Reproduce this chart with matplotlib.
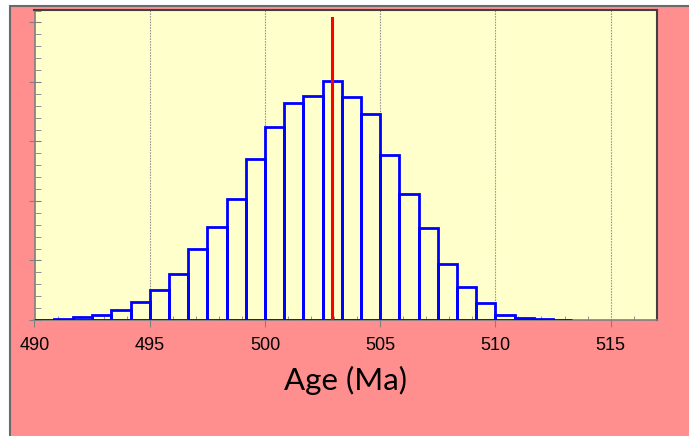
import matplotlib.pyplot as plt
from matplotlib.patches import Rectangle
from matplotlib.ticker import MultipleLocator
import numpy as np

# bin edges (bins of 5/6 Ma starting at 490) and bar heights
bin_start = 490.0
bin_width = 5.0 / 6.0
heights = [0.005, 0.022, 0.055, 0.09, 0.17, 0.31, 0.51, 0.78, 1.19, 1.57,
           2.04, 2.71, 3.24, 3.65, 3.76, 4.02, 3.74, 3.47, 2.77, 2.12,
           1.55, 0.94, 0.55, 0.28, 0.09, 0.04, 0.012, 0.008]
mean_age = 502.91
mean_top = 5.07
x_ticks = [490, 495, 500, 505, 510, 515]

edges = bin_start + bin_width * np.arange(len(heights))

fig = plt.figure(figsize=(6.89, 4.36), dpi=100)
fig.patch.set_facecolor('white')

# pink background panel with grey border
bg = Rectangle((10 / 689, -0.1), 1.1, 1 - 6 / 436 + 0.1, transform=fig.transFigure,
               facecolor='#FF8F8F', edgecolor='#6a6a6a', linewidth=1.5, zorder=-10)
fig.patches.append(bg)

ax = fig.add_axes([34.5 / 689, 1 - 320 / 436, (656.7 - 34.5) / 689, 310 / 436])
ax.set_facecolor('#FFFFCC')

ax.bar(edges, heights, width=bin_width, align='edge', facecolor='none',
       edgecolor='#0000FF', linewidth=2, zorder=3)
ax.plot([mean_age, mean_age], [0, mean_top], color='#FF0000', linewidth=2.2, zorder=4)

ax.set_xlim(490, 517)
ax.set_ylim(0, 5.21)
ax.set_xticks(x_ticks)
ax.xaxis.set_minor_locator(MultipleLocator(1))
ax.yaxis.set_major_locator(MultipleLocator(1))
ax.yaxis.set_minor_locator(MultipleLocator(0.2))
ax.set_yticklabels([])

ax.grid(axis='x', which='major', color='#999999', linestyle=(0, (1.5, 1)), linewidth=0.8)
ax.set_axisbelow(True)

ax.tick_params(axis='x', which='major', direction='out', length=5, color='#808080',
               labelsize=13, pad=7)
ax.tick_params(axis='x', which='minor', direction='in', length=3, color='#808080')
ax.tick_params(axis='y', which='major', direction='inout', length=8, color='#808080')
ax.tick_params(axis='y', which='minor', direction='in', length=4, color='#808080')
for lab in ax.get_xticklabels():
    lab.set_family(['Liberation Sans', 'DejaVu Sans'])

for side in ['left', 'bottom']:
    ax.spines[side].set_color('#808080')
    ax.spines[side].set_linewidth(1.2)
for side in ['top', 'right']:
    ax.spines[side].set_color('#404040')
    ax.spines[side].set_linewidth(1.5)

ax.set_xlabel('Age (Ma)', fontsize=22.5, family=['Lato', 'DejaVu Sans'], labelpad=9)

plt.savefig('out.png', dpi=100)
